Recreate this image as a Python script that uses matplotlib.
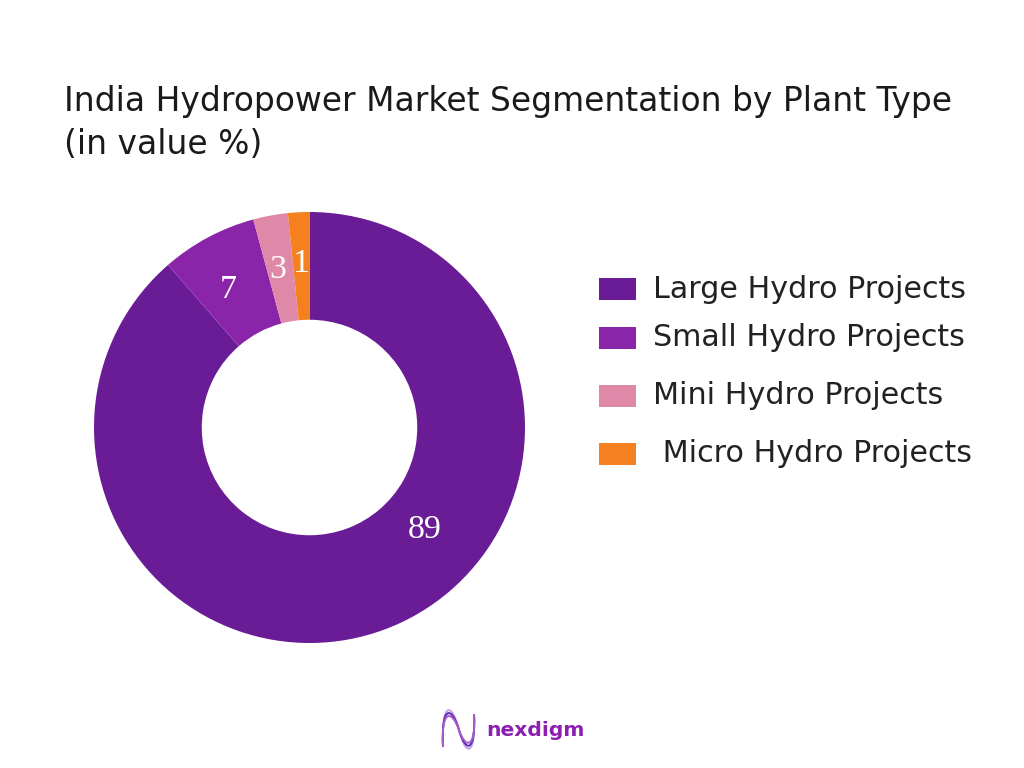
import matplotlib
matplotlib.use("Agg")
import matplotlib.pyplot as plt
from matplotlib.patches import Rectangle, PathPatch
from matplotlib.path import Path

plant_types = ["Large Hydro Projects", "Small Hydro Projects", "Mini Hydro Projects", " Micro Hydro Projects"]
shares = [89, 7, 3, 1]
# drawn sizes differ a little from the printed labels in the source picture
slice_sizes = [88.6, 7.2, 2.6, 1.6]
slice_colors = ["#6A1B96", "#8A24A8", "#E088A8", "#F58020"]
legend_rows = [289, 338, 396, 454]
# label spots inside the donut, in units of its radius
label_spots = [(0.536, -0.476), (-0.378, 0.638), (-0.146, 0.731), (-0.039, 0.759)]

plt.rcParams['font.family'] = ['DejaVu Sans']

fig = plt.figure(figsize=(10.24, 7.68), dpi=100, facecolor="white")

# full figure overlay in pixel coords for the text and legend
page = fig.add_axes([0, 0, 1, 1])
page.set_xlim(0, 1024)
page.set_ylim(768, 0)
page.axis("off")

page.text(64, 102, "India Hydropower Market Segmentation by Plant Type", fontsize=23.7, color="#1a1a1a", va="center")
page.text(64, 145, "(in value %)", fontsize=23.7, color="#1a1a1a", va="center")

for name, row, color in zip(plant_types, legend_rows, slice_colors):
    page.add_patch(Rectangle((599, row - 11), 37, 22, color=color, lw=0))
    page.text(653, row, name, fontsize=21.7, color="#222222", va="center")

# donut
cx, cy, r = 309.5, 427.5, 215.5
pie_ax = fig.add_axes([(cx - r) / 1024, 1 - (cy + r) / 768, 2 * r / 1024, 2 * r / 768])
wedges, _ = pie_ax.pie(slice_sizes, colors=slice_colors, startangle=90, counterclock=False,
                       radius=1.0, wedgeprops=dict(width=0.5, linewidth=0))
pie_ax.set_xlim(-1, 1)
pie_ax.set_ylim(-1, 1)

for (x, y), value in zip(label_spots, shares):
    pie_ax.text(x, y, str(value), color="white", fontsize=24.5,
                family="Liberation Serif", ha="center", va="center")

# logo mark, three thin waves
wave_colors = ["#C9A0E8", "#5B2BB5", "#A85CC8"]
wave_offsets = [-4, 0, 4]
for color, off in zip(wave_colors, wave_offsets):
    verts = [(443, 747), (441, 704 + off), (452, 706 + off), (459, 730),
             (466, 754 - off), (476, 752 - off), (474, 714)]
    codes = [Path.MOVETO] + [Path.CURVE4] * 6
    page.add_patch(PathPatch(Path(verts, codes), fill=False, edgecolor=color, lw=1.4))

page.text(486, 731, "nexdigm", fontsize=14.6, fontweight="bold", color="#8A1FB0", va="center")

fig.savefig("out.png", dpi=100)
